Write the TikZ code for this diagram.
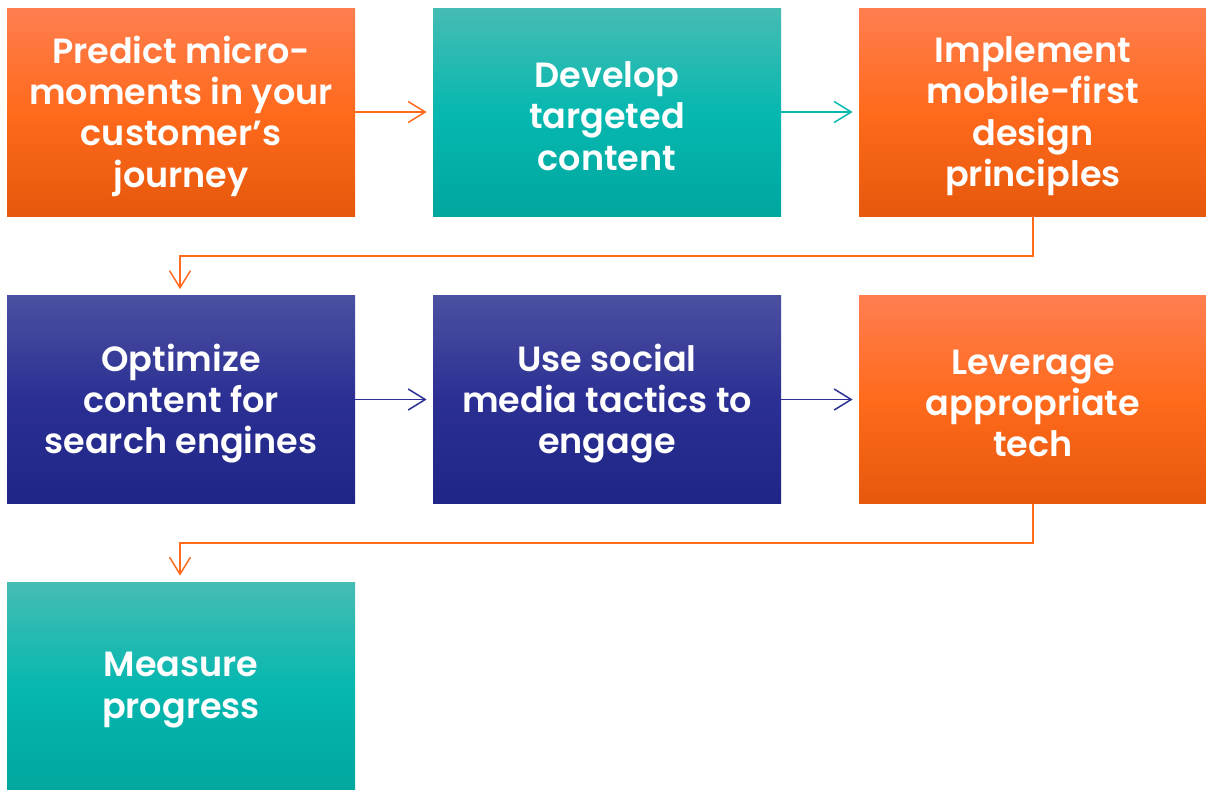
\documentclass[tikz,border=0pt]{standalone}
\usepackage{fontspec}
\setmainfont{Poppins}[BoldFont={Poppins SemiBold}]
\usetikzlibrary{arrows.meta}
\definecolor{orT}{HTML}{FF7E50}
\definecolor{orM}{HTML}{FF6A1C}
\definecolor{orB}{HTML}{E6580C}
\definecolor{teT}{HTML}{46BCB3}
\definecolor{teM}{HTML}{06B8B0}
\definecolor{teB}{HTML}{00A79F}
\definecolor{inT}{HTML}{4C50A0}
\definecolor{inM}{HTML}{2B2F93}
\definecolor{inB}{HTML}{1F2587}
\tikzset{
  x=0.5pt, y=-0.5pt,
  box/.style={minimum width=174pt, minimum height=104pt, inner sep=0pt},
  lbl/.style={inner sep=0pt, align=center, yshift=-2pt,
    text=white, font=\fontsize{17.5}{20.7}\selectfont\bfseries},
  orbox/.style={box, top color=orT, bottom color=orB, middle color=orM},
  tebox/.style={box, top color=teT, bottom color=teB, middle color=teM},
  inbox/.style={box, top color=inT, bottom color=inB, middle color=inM},
  conn/.style={line width=0.75pt, -{Straight Barb[length=8.5pt,width=10.5pt,line width=0.75pt]}, shorten >=3pt},
}
\begin{document}
\begin{tikzpicture}
\useasboundingbox (0,0) rectangle (1206,789);
\node[orbox, label={[lbl]center:{Predict micro-\\moments in your\\customer’s\\journey}}] (b1) at (181,112) {};
\node[tebox, label={[lbl]center:{Develop\\targeted\\content}}] (b2) at (607,112) {};
\node[orbox, label={[lbl]center:{Implement\\mobile-first\\design\\principles}}] (b3) at (1033,112) {};
\node[inbox, label={[lbl]center:{Optimize\\content for\\search engines}}] (b4) at (181,399.5) {};
\node[inbox, label={[lbl]center:{Use social\\media tactics to\\engage}}] (b5) at (607,399.5) {};
\node[orbox, label={[lbl]center:{Leverage\\appropriate\\tech}}] (b6) at (1033,399.5) {};
\node[tebox, label={[lbl]center:{Measure\\progress}}] (b7) at (181,686) {};
\coordinate (k1) at (1033,256);
\coordinate (k2) at (180,256);
\coordinate (k3) at (1033,543);
\coordinate (k4) at (180,543);
\draw[conn, orM] (b1) -- (b2);
\draw[conn, teM] (b2) -- (b3);
\draw[conn, orM] (b3.south) -- (k1) -- (k2) -- (b4.north -| k2);
\draw[conn, inM] (b4) -- (b5);
\draw[conn, inM] (b5) -- (b6);
\draw[conn, orM] (b6.south) -- (k3) -- (k4) -- (b7.north -| k4);
\end{tikzpicture}
\end{document}
